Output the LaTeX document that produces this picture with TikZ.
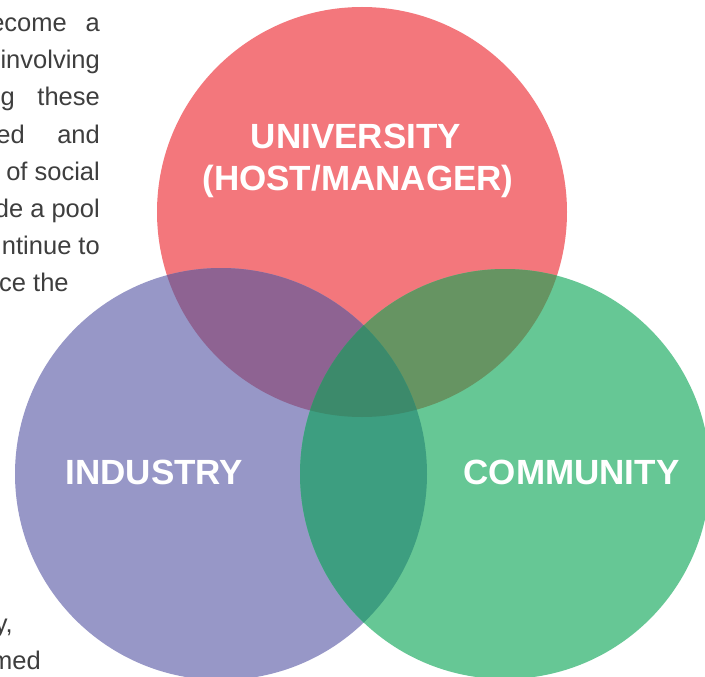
\documentclass[tikz,border=0pt]{standalone}
\usepackage{fontspec}
\setmainfont{Liberation Sans}
\definecolor{cred}{HTML}{F3777C}
\definecolor{cpurple}{HTML}{9797C7}
\definecolor{cgreen}{HTML}{66C795}
\definecolor{crp}{HTML}{8E6392}
\definecolor{crg}{HTML}{669462}
\definecolor{cpg}{HTML}{3D9E80}
\definecolor{crpg}{HTML}{3C8A6B}
\definecolor{ctext}{HTML}{3E3E3E}
\tikzset{
  body/.style={inner sep=0pt, text=ctext, font=\fontsize{25.5}{30}\selectfont},
  label/.style={inner sep=0pt, text=white, font=\fontsize{35}{42}\selectfont\bfseries, align=center},
}
\begin{document}
\begin{tikzpicture}[x=1pt,y=-1pt]
\useasboundingbox (0,0) rectangle (705,677);
\clip (0,0) rectangle (705,677);
\fill[white] (0,0) rectangle (705,677);
% circles
\def\cR{(362,212) circle (205)}
\def\cP{(221,474) circle (206)}
\def\cG{(505,474) circle (205)}
\fill[cred] \cR;
\fill[cpurple] \cP;
\fill[cgreen] \cG;
\begin{scope}\clip \cR; \fill[crp] \cP; \end{scope}
\begin{scope}\clip \cR; \fill[crg] \cG; \end{scope}
\begin{scope}\clip \cP; \fill[cpg] \cG; \end{scope}
\begin{scope}\clip \cR; \clip \cP; \fill[crpg] \cG; \end{scope}
% labels
\node[label, anchor=base] (uni) at (356,148) {UNIVERSITY};
\node[label, anchor=base] (host) at (358,190) {(HOST/MANAGER)};
\node[label, anchor=base] (ind) at (154.5,484) {INDUSTRY};
\node[label, anchor=base] (com) at (571.5,484) {COMMUNITY};
% paragraph fragments
\node[body, anchor=base east] (t1a) at (67,32) {become};
\node[body, anchor=base east] (t1b) at (100,32) {a};
\node[body, anchor=base east] (t2) at (100,69) {involving};
\node[body, anchor=base east] (t3a) at (15,106) {g};
\node[body, anchor=base east] (t3b) at (100,106) {these};
\node[body, anchor=base east] (t4a) at (25,143) {ed};
\node[body, anchor=base east] (t4b) at (100,143) {and};
\node[body, anchor=base east] (t5) at (100,180) {of social};
\node[body, anchor=base east] (t6) at (100,217) {de a pool};
\node[body, anchor=base east] (t7) at (100,254) {ntinue to};
\node[body, anchor=base west] (t8) at (-1,291) {ce the};
\node[body, anchor=base east] (t9) at (13,632) {y,};
\node[body, anchor=base east] (t10) at (41,669) {med};
\end{tikzpicture}
\end{document}
